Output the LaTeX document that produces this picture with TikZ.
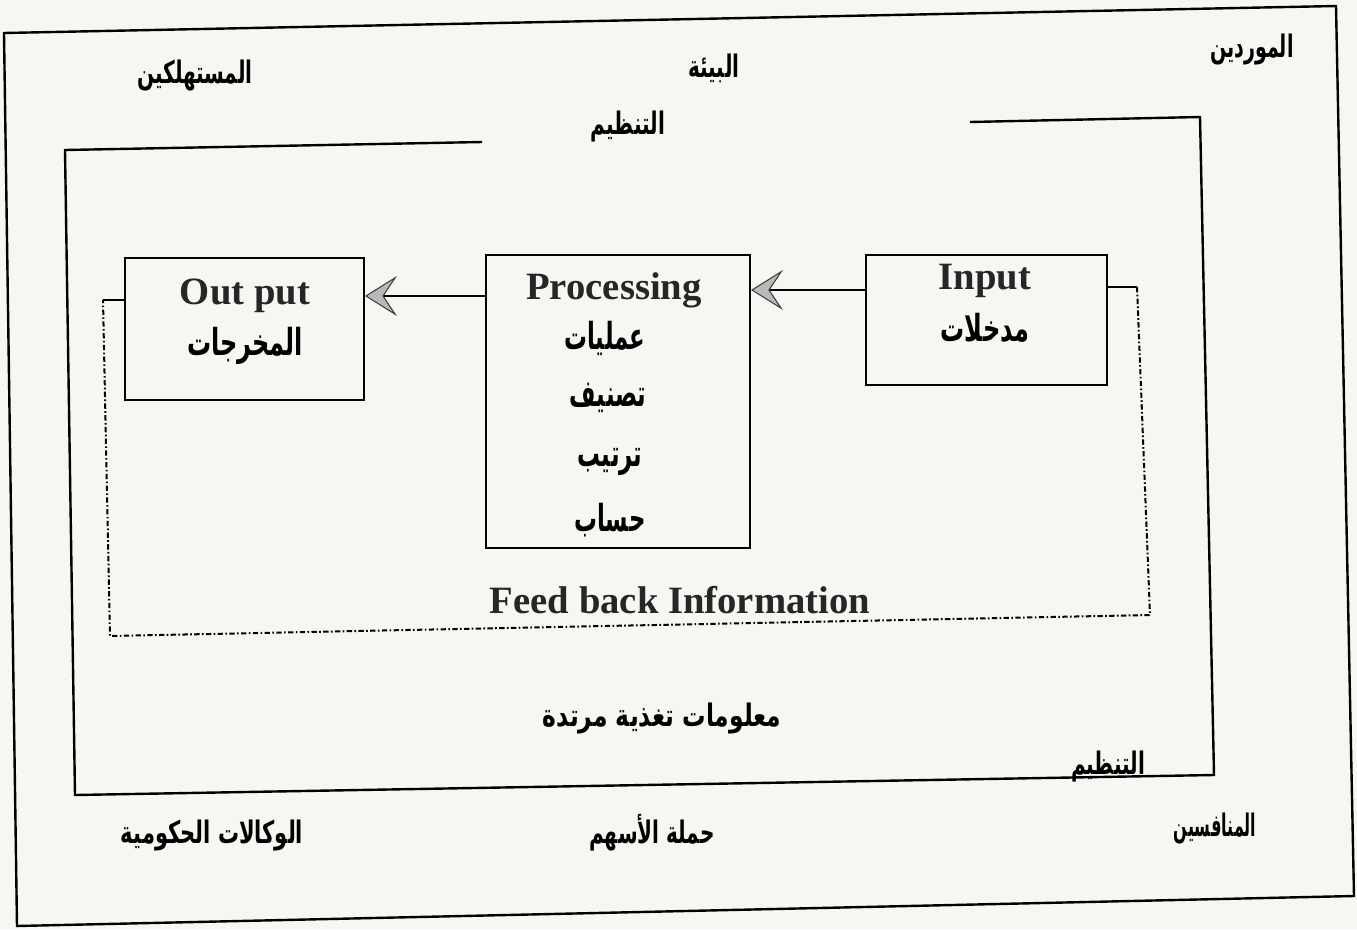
\documentclass[tikz,border=0pt]{standalone}
\usepackage{fontspec}
\usepackage{graphicx}
\setmainfont{Liberation Serif}
\newfontfamily\arabicfont[Script=Arabic]{DejaVu Sans}
\TeXXeTstate=1
\usetikzlibrary{arrows.meta}
\definecolor{paper}{RGB}{246,246,242}
\newcommand{\artxt}[2][1]{\scalebox{#1}[1.55]{\beginR #2\endR}}
\tikzset{
  frame/.style={line width=1.8pt, draw=black},
  boxnode/.style={draw=black, line width=1.4pt, rectangle, inner sep=0pt},
  en/.style={font=\bfseries\fontsize{29}{32}\selectfont, inner sep=0pt, text=black!85},
  ar/.style={font=\arabicfont\bfseries\fontsize{15}{18}\selectfont, inner sep=0pt},
  arbig/.style={font=\arabicfont\bfseries\fontsize{18}{20}\selectfont, inner sep=0pt},
  arr/.style={line width=1.3pt, -{Stealth[length=24pt,width=30pt,inset=10pt,fill=gray!55,color=black!75,line width=0.8pt]}},
  fbline/.style={line width=1.4pt},
  fbdash/.style={line width=1.5pt, dash pattern=on 4pt off 1.8pt on 1.2pt off 1.8pt}
}
\begin{document}
\begin{tikzpicture}[x=0.75pt,y=-0.75pt]
\useasboundingbox (0,0) rectangle (1357,929);
\fill[paper] (0,0) rectangle (1357,929);
% outer frame
\draw[frame] (4,33) -- (1336,6) -- (1354,896) -- (17,926) -- cycle;
% inner frame
\draw[frame] (482,142) -- (65,150) -- (75,795) -- (1214,775) -- (1200,117) -- (970,122);
% environment labels
\node[ar] (mawridin) at (1252,50) {\artxt[0.95]{الموردين}};
\node[ar] (bia) at (714,68) {\artxt{البيئة}};
\node[ar] (mustahlikin) at (195,76) {\artxt{المستهلكين}};
\node[ar] (tanzimtop) at (628,127) {\artxt{التنظيم}};
\node[ar] (tanzimbot) at (1108,766) {\artxt{التنظيم}};
\node[ar] (munafisin) at (1215,828) {\artxt[0.8]{المنافسين}};
\node[ar] (hamala) at (652,833) {\artxt{حملة الأسهم}};
\node[ar] (wakalat) at (212,835) {\artxt[1.05]{الوكالات الحكومية}};
\node[ar] (feedar) at (662,718) {\artxt[1.17]{معلومات تغذية مرتدة}};
% boxes
\node[boxnode, minimum width=179.25pt, minimum height=106.5pt] (out) at (244.5,329) {};
\node[boxnode, minimum width=198pt, minimum height=219.75pt] (proc) at (618,401.5) {};
\node[boxnode, minimum width=180.75pt, minimum height=97.5pt] (inp) at (986.5,320) {};
% box texts
\node[en] (otxt) at (245,296) {Out put};
\node[arbig] (oar) at (245,346) {\artxt{المخرجات}};
\node[en] (ptxt) at (614,290) {Processing};
\node[arbig] (p1) at (605,338) {\artxt[0.95]{عمليات}};
\node[arbig] (p2) at (608,398) {\artxt[0.95]{تصنيف}};
\node[arbig] (p3) at (610,462) {\artxt[0.95]{ترتيب}};
\node[arbig] (p4) at (610,520) {\artxt[0.95]{حساب}};
\node[en] (itxt) at (985,281) {Input};
\node[arbig] (iar) at (985,328) {\artxt{مدخلات}};
\node[en] (fben) at (680,600) {Feed back Information};
% arrows
\draw[arr] (inp.west |- ptxt) -- (proc.east |- ptxt);
\draw[arr] (proc.west |- otxt) -- (out.east |- otxt);
% feedback loop
\coordinate (c1) at (1137,287);
\coordinate (c2) at (1150,615);
\coordinate (c3) at (110,636);
\coordinate (c4) at (103,300);
\draw[fbline] (inp.east |- c1) -- (c1);
\draw[fbdash] (c1) -- (c2) -- (c3) -- (c4);
\draw[fbline] (c4) -- (out.west |- c4);
\end{tikzpicture}
\end{document}
